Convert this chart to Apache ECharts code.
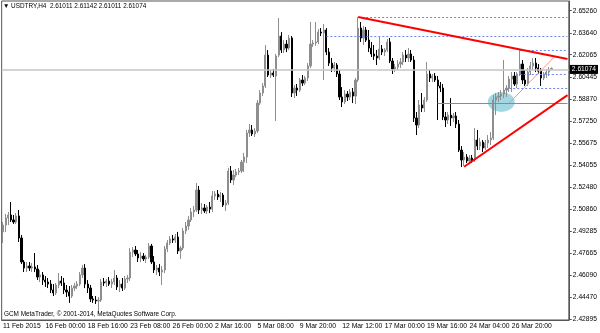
<!DOCTYPE html>
<html><head><meta charset="utf-8">
<script src="https://cdn.jsdelivr.net/npm/echarts@6/dist/echarts.min.js"></script>
<style>html,body{margin:0;padding:0;background:#fff}#c{width:600px;height:333px}</style>
</head><body><div id="c"></div>
<script>
const tickLabels = ['11 Feb 2015','16 Feb 00:00','18 Feb 16:00','23 Feb 08:00','26 Feb 00:00','2 Mar 16:00','5 Mar 08:00','9 Mar 20:00','12 Mar 12:00','17 Mar 00:00','19 Mar 16:00','24 Mar 04:00','26 Mar 20:00'];
const priceTicks = [2.42895,2.44470,2.46090,2.47665,2.49285,2.50860,2.52480,2.54055,2.55675,2.57250,2.58870,2.60445,2.62065,2.63640,2.65260];
const yMin = 2.42822, yMax = 2.65964;
const slotCount = 214;
const opens = [
2.4921,2.4971,2.5022,2.5044,2.5008,2.4993,2.5037,2.4877,2.4703,2.4659,
2.4674,2.4659,2.4667,2.4652,2.4594,2.4609,2.4572,2.4558,2.4543,2.4500,
2.4478,2.4536,2.4565,2.4551,2.4500,2.4485,2.4456,2.4514,2.4529,2.4543,
2.4609,2.4659,2.4543,2.4514,2.4435,2.4427,2.4420,2.4427,2.4558,2.4551,
2.4565,2.4543,2.4558,2.4587,2.4522,2.4543,2.4514,2.4580,2.4587,2.4775,
2.4790,2.4761,2.4732,2.4746,2.4725,2.4739,2.4819,2.4703,2.4645,2.4659,
2.4630,2.4645,2.4797,2.4841,2.4870,2.4862,2.4884,2.4783,2.4804,2.4928,
2.4964,2.5008,2.5066,2.5080,2.5225,2.5080,2.5095,2.5073,2.5102,2.5087,
2.5182,2.5196,2.5175,2.5189,2.5116,2.5131,2.5363,2.5298,2.5334,2.5356,
2.5363,2.5428,2.5465,2.5639,2.5661,2.5632,2.5653,2.5856,2.5929,2.5980,
2.6204,2.6059,2.6074,2.6052,2.6204,2.6342,2.6241,2.6284,2.6255,2.6328,
2.5929,2.5965,2.5950,2.6023,2.6001,2.6038,2.6125,2.6284,2.6292,2.6299,
2.6371,2.6364,2.6386,2.6226,2.6146,2.6110,2.6132,2.6067,2.5900,2.5864,
2.5921,2.5900,2.5936,2.5907,2.6023,2.6400,2.6328,2.6386,2.6313,2.6255,
2.6212,2.6197,2.6183,2.6248,2.6226,2.6241,2.6299,2.6161,2.6103,2.6117,
2.6139,2.6154,2.6204,2.6183,2.6212,2.6168,2.5748,2.5697,2.5842,2.5820,
2.5878,2.6067,2.6038,2.6052,2.6023,2.5980,2.5965,2.5755,2.5733,2.5769,
2.5748,2.5762,2.5704,2.5515,2.5443,2.5465,2.5436,2.5457,2.5443,2.5588,
2.5544,2.5573,2.5530,2.5566,2.5588,2.5603,2.5878,2.5900,2.5907,2.5921,
2.5950,2.5965,2.6030,2.6052,2.5994,2.6067,2.6139,2.6023,2.5994,2.6081,
2.6125,2.6146,2.6110,2.6088,2.6038,2.6067,2.6081,2.61011];
const closes = [
2.4971,2.5022,2.5044,2.5008,2.4993,2.5037,2.4877,2.4703,2.4659,2.4674,
2.4659,2.4667,2.4652,2.4594,2.4609,2.4572,2.4558,2.4543,2.4500,2.4478,
2.4536,2.4565,2.4551,2.4500,2.4485,2.4456,2.4514,2.4529,2.4543,2.4609,
2.4659,2.4543,2.4514,2.4435,2.4427,2.4420,2.4427,2.4558,2.4551,2.4565,
2.4543,2.4558,2.4587,2.4522,2.4543,2.4514,2.4580,2.4587,2.4775,2.4790,
2.4761,2.4732,2.4746,2.4725,2.4739,2.4819,2.4703,2.4645,2.4659,2.4630,
2.4645,2.4797,2.4841,2.4870,2.4862,2.4884,2.4783,2.4804,2.4928,2.4964,
2.5008,2.5066,2.5080,2.5225,2.5080,2.5095,2.5073,2.5102,2.5087,2.5182,
2.5196,2.5175,2.5189,2.5116,2.5131,2.5363,2.5298,2.5334,2.5356,2.5363,
2.5428,2.5465,2.5639,2.5661,2.5632,2.5653,2.5856,2.5929,2.5980,2.6204,
2.6059,2.6074,2.6059,2.6197,2.6342,2.6241,2.6284,2.6255,2.6328,2.5929,
2.5965,2.5950,2.6023,2.6001,2.6038,2.6125,2.6284,2.6292,2.6299,2.6371,
2.6364,2.6386,2.6226,2.6146,2.6110,2.6132,2.6067,2.5900,2.5864,2.5921,
2.5900,2.5936,2.5907,2.6023,2.6400,2.6328,2.6386,2.6313,2.6255,2.6212,
2.6197,2.6183,2.6248,2.6226,2.6241,2.6299,2.6161,2.6103,2.6117,2.6139,
2.6154,2.6204,2.6183,2.6212,2.6168,2.5748,2.5697,2.5842,2.5820,2.5878,
2.6067,2.6038,2.6052,2.6023,2.5980,2.5965,2.5755,2.5733,2.5769,2.5748,
2.5762,2.5704,2.5515,2.5443,2.5465,2.5436,2.5457,2.5443,2.5588,2.5544,
2.5573,2.5530,2.5566,2.5588,2.5603,2.5878,2.5900,2.5907,2.5921,2.5950,
2.5965,2.6030,2.6052,2.5994,2.6067,2.6139,2.6023,2.5994,2.6081,2.6125,
2.6146,2.6110,2.6088,2.6038,2.6067,2.6081,2.6096,2.61074];
const lows = [
2.4841,2.4921,2.4971,2.4993,2.4979,2.4979,2.4848,2.4688,2.4630,2.4630,
2.4638,2.4630,2.4630,2.4572,2.4558,2.4536,2.4522,2.4514,2.4478,2.4456,
2.4464,2.4514,2.4529,2.4471,2.4449,2.4406,2.4442,2.4493,2.4507,2.4529,
2.4587,2.4514,2.4478,2.4413,2.4406,2.4398,2.4326,2.4413,2.4529,2.4522,
2.4529,2.4514,2.4536,2.4500,2.4485,2.4493,2.4500,2.4551,2.4565,2.4739,
2.4746,2.4703,2.4703,2.4710,2.4696,2.4725,2.4688,2.4623,2.4609,2.4601,
2.4536,2.4623,2.4775,2.4826,2.4841,2.4841,2.4761,2.4725,2.4790,2.4906,
2.4935,2.4993,2.5029,2.5066,2.5051,2.5051,2.5058,2.5051,2.5058,2.5066,
2.5153,2.5153,2.5138,2.5102,2.5073,2.5116,2.5276,2.5262,2.5320,2.5334,
2.5349,2.5356,2.5421,2.5610,2.5617,2.5610,2.5639,2.5842,2.5907,2.5965,
2.6045,2.6038,2.6045,2.5726,2.6190,2.6219,2.6219,2.6226,2.6241,2.5900,
2.5892,2.5907,2.5936,2.5980,2.5987,2.6016,2.6110,2.6263,2.6270,2.6284,
2.6342,2.6023,2.6204,2.6125,2.6081,2.6081,2.6045,2.5878,2.5827,2.5849,
2.5871,2.5878,2.5856,2.5849,2.6009,2.6299,2.6277,2.6299,2.6226,2.6190,
2.6168,2.6132,2.6168,2.6204,2.6197,2.6226,2.6146,2.6067,2.6081,2.6096,
2.6110,2.6132,2.6154,2.6154,2.6154,2.5719,2.5624,2.5675,2.5791,2.5791,
2.5864,2.6009,2.6009,2.6009,2.5733,2.5936,2.5733,2.5682,2.5704,2.5690,
2.5719,2.5675,2.5501,2.5392,2.5399,2.5421,2.5414,2.5421,2.5428,2.5515,
2.5515,2.5501,2.5515,2.5530,2.5552,2.5588,2.5769,2.5864,2.5878,2.5892,
2.5900,2.5936,2.5936,2.5980,2.5965,2.6052,2.5994,2.5980,2.5980,2.6059,
2.6096,2.6081,2.6067,2.5980,2.6023,2.6038,2.6052,2.61011];
const highs = [
2.4993,2.5051,2.5066,2.5138,2.5044,2.5058,2.5080,2.4899,2.4717,2.4703,
2.4703,2.4696,2.4768,2.4681,2.4645,2.4630,2.4601,2.4587,2.4572,2.4543,
2.4551,2.4623,2.4601,2.4587,2.4536,2.4529,2.4536,2.4551,2.4565,2.4630,
2.4681,2.4688,2.4572,2.4536,2.4456,2.4456,2.4449,2.4580,2.4587,2.4580,
2.4594,2.4580,2.4645,2.4609,2.4572,2.4587,2.4601,2.4609,2.4804,2.4812,
2.4819,2.4790,2.4775,2.4768,2.4754,2.4841,2.4834,2.4746,2.4681,2.4688,
2.4674,2.4819,2.4862,2.4891,2.4899,2.4906,2.4921,2.4819,2.4950,2.4993,
2.5037,2.5095,2.5109,2.5276,2.5254,2.5131,2.5124,2.5116,2.5138,2.5218,
2.5218,2.5225,2.5211,2.5204,2.5153,2.5385,2.5399,2.5370,2.5378,2.5385,
2.5443,2.5494,2.5661,2.5704,2.5697,2.5675,2.5878,2.5950,2.6001,2.6277,
2.6241,2.6096,2.6103,2.6212,2.6473,2.6371,2.6313,2.6313,2.6350,2.6342,
2.5987,2.5994,2.6038,2.6059,2.6052,2.6146,2.6444,2.6313,2.6444,2.6393,
2.6400,2.6429,2.6400,2.6255,2.6183,2.6154,2.6146,2.6096,2.5972,2.5950,
2.5943,2.5958,2.5965,2.6038,2.6480,2.6444,2.6415,2.6408,2.6386,2.6299,
2.6277,2.6241,2.6335,2.6277,2.6255,2.6321,2.6328,2.6183,2.6139,2.6168,
2.6183,2.6226,2.6241,2.6255,2.6241,2.6197,2.5791,2.5878,2.5929,2.5900,
2.6154,2.6096,2.6067,2.6074,2.6052,2.6009,2.5994,2.5791,2.5791,2.5892,
2.5784,2.5791,2.5733,2.5544,2.5501,2.5486,2.5479,2.5479,2.5675,2.5661,
2.5603,2.5588,2.5588,2.5624,2.5646,2.5914,2.5929,2.5936,2.5950,2.6168,
2.5987,2.6052,2.6081,2.6081,2.6081,2.6241,2.6168,2.6096,2.6110,2.6154,
2.6183,2.6183,2.6139,2.6110,2.6081,2.6103,2.6117,2.61142];
const lastPrice = 2.61074;
const dottedLevels = [[134, 2.6480], [122, 2.6342], [195, 2.6241], [195, 2.6063], [191, 2.5965]];
const solidLevel = [164, 2.5856];
const trendUpper = [[134, 2.6480], [213, 2.6176]];
const trendLower = [[174, 2.5394], [213, 2.5914]];
const trendThin = [[191, 2.5856], [208, 2.6190]];
const ellipsePoint = [188, 2.5864];

const categories = [];
for (let i = 0; i < slotCount; i++) categories.push(String(i));
const candleData = opens.map((o, i) => [o, closes[i], lows[i], highs[i]]);
const lastIdx = slotCount - 1;

const markData = [];
markData.push({yAxis: lastPrice, lineStyle: {color: '#c4c4c4', width: 1.5, type: 'solid'},
  label: {show: true, position: 'end', formatter: lastPrice.toFixed(5), color: '#fff', backgroundColor: '#000',
          fontSize: 6.7, padding: [1, 2, 1, 2], distance: 1}});
dottedLevels.forEach(d => markData.push([{coord: [d[0], d[1]], lineStyle: {color: '#7088e8', width: 1, type: [2, 2]}}, {coord: [lastIdx, d[1]]}]));
markData.push([{coord: [solidLevel[0], solidLevel[1]], lineStyle: {color: '#6f8ad8', width: 1, type: 'solid'}}, {coord: [lastIdx, solidLevel[1]]}]);
markData.push([{coord: trendUpper[0], lineStyle: {color: '#ff0000', width: 2, type: 'solid'}}, {coord: trendUpper[1]}]);
markData.push([{coord: trendLower[0], lineStyle: {color: '#ff0000', width: 2, type: 'solid'}}, {coord: trendLower[1]}]);
markData.push([{coord: trendThin[0], lineStyle: {color: '#ff8c8c', width: 1, type: 'solid'}}, {coord: trendThin[1]}]);

const chart = echarts.init(document.getElementById('c'), null, {renderer: 'canvas'});
const font = 'Liberation Sans';
chart.setOption({
  animation: false,
  textStyle: {fontFamily: font},
  title: [
    {text: '▼ USDTRY,H4  2.61011 2.61142 2.61011 2.61074', left: 3, top: 3, padding: 0,
     textStyle: {fontSize: 6.4, fontWeight: 'normal', color: '#000', fontFamily: font}},
    {text: 'GCM MetaTrader, © 2001-2014, MetaQuotes Software Corp.', left: 4, top: 311, padding: 0,
     textStyle: {fontSize: 6.4, fontWeight: 'normal', color: '#000', fontFamily: font}}
  ],
  grid: {left: 1, right: 29, top: 1, bottom: 13, show: true, borderColor: '#555', borderWidth: 1},
  xAxis: {
    type: 'category', data: categories, boundaryGap: true,
    axisLine: {lineStyle: {color: '#555'}},
    axisTick: {interval: 15, alignWithLabel: true, length: 3, lineStyle: {color: '#555'}},
    axisLabel: {interval: 15, align: 'left', margin: 3, fontSize: 6.8, color: '#000',
      formatter: (v, i) => (i % 16 === 0 && tickLabels[i / 16]) ? tickLabels[i / 16] : ''},
    splitLine: {show: false}
  },
  yAxis: {
    type: 'value', position: 'right', min: yMin, max: yMax,
    axisLine: {show: true, lineStyle: {color: '#555'}},
    axisTick: {show: true, length: 3, customValues: priceTicks, lineStyle: {color: '#555'}},
    axisLabel: {customValues: priceTicks, formatter: v => v.toFixed(5), margin: 4, fontSize: 6.7, color: '#000'},
    splitLine: {show: false}
  },
  series: [
    {type: 'scatter', data: [ellipsePoint], symbol: 'circle', symbolSize: [27, 20], z: 1,
     itemStyle: {color: '#a3d8e2', opacity: 1}, silent: true},
    {type: 'candlestick', data: candleData, barWidth: 1.7, z: 3,
     itemStyle: {color: '#8e8e8e', color0: '#000', borderColor: '#8e8e8e', borderColor0: '#000', borderWidth: 1},
     markLine: {silent: true, symbol: ['none', 'none'], animation: false, label: {show: false}, data: markData}}
  ]
});
</script></body></html>
